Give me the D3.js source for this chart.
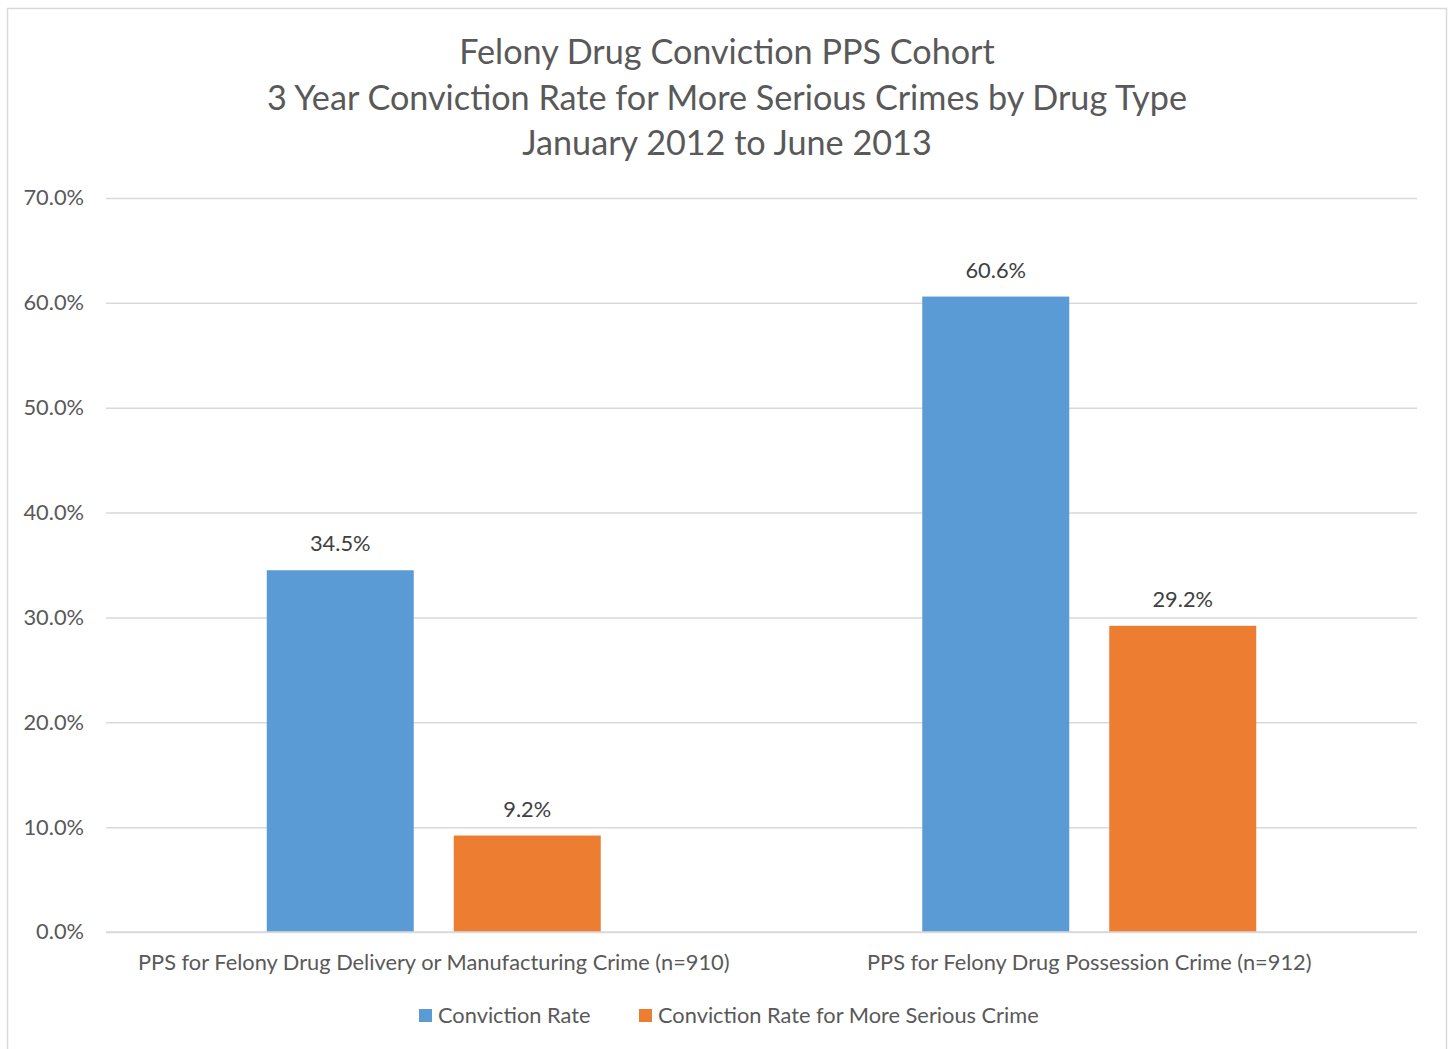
<!DOCTYPE html>
<html>
<head>
<meta charset="utf-8">
<script src="https://cdn.jsdelivr.net/npm/d3@7"></script>
<style>
  html, body { margin: 0; padding: 0; background: #fff; }
  svg { display: block; }
  text { font-family: Lato, "Open Sans", sans-serif; }
</style>
</head>
<body>
<svg id="chart" width="1453" height="1049"></svg>
<script>
// Chart data
const titleLines = [
  "Felony Drug Conviction PPS Cohort",
  "3 Year Conviction Rate for More Serious Crimes by Drug Type",
  "January 2012 to June 2013"
];
const categories = [
  "PPS for Felony Drug Delivery or Manufacturing Crime (n=910)",
  "PPS for Felony Drug Possession Crime (n=912)"
];
const seriesNames = ["Conviction Rate", "Conviction Rate for More Serious Crime"];
const convictionRate = [34.5, 60.6];
const seriousCrimeRate = [9.2, 29.2];
const yTicks = [0, 10, 20, 30, 40, 50, 60, 70];
const seriesColors = ["#5b9bd5", "#ed7d31"];

const seriesValues = [convictionRate, seriousCrimeRate];

const svg = d3.select("#chart");
const labelSize = 21.8;

// Outer frame of the chart area
svg.append("rect")
  .attr("x", 7.5).attr("y", 8.5)
  .attr("width", 1439).attr("height", 1060)
  .attr("fill", "#fff")
  .attr("stroke", "#d9d9d9").attr("stroke-width", 1.5);

const plot = { left: 106, right: 1417, top: 198, bottom: 932 };

const y = d3.scaleLinear().domain([0, 70]).range([plot.bottom, plot.top]);
const x0 = d3.scaleBand().domain(categories).range([plot.left, plot.right]).padding(0);
const x1 = d3.scaleBand().domain(seriesNames).range([0, x0.bandwidth()])
  .paddingInner(0.2139).paddingOuter(0.8597);

// Title
svg.append("g").selectAll("text").data(titleLines).join("text")
  .attr("x", 727)
  .attr("y", (d, i) => 64 + i * 45.5)
  .attr("text-anchor", "middle")
  .attr("font-size", 34.2)
  .attr("fill", "#595959")
  .text(d => d);

// Gridlines and y labels
const yAxis = d3.axisLeft(y).tickValues(yTicks)
  .tickFormat(d => d.toFixed(1) + "%")
  .tickSize(-(plot.right - plot.left)).tickPadding(22);
const gy = svg.append("g").attr("transform", `translate(${plot.left},0)`).call(yAxis);
gy.select(".domain").remove();
gy.selectAll(".tick line").attr("stroke", "#d9d9d9").attr("stroke-width", 1.5);
gy.selectAll(".tick text")
  .attr("font-family", "Lato, 'Open Sans', sans-serif")
  .attr("font-size", labelSize).attr("fill", "#595959");

// Bars
const groups = svg.append("g").selectAll("g").data(categories).join("g")
  .attr("transform", d => `translate(${x0(d)},0)`);

groups.selectAll("rect")
  .data((c, ci) => seriesNames.map((s, si) => ({ s, si, v: seriesValues[si][ci] })))
  .join("rect")
  .attr("x", d => x1(d.s))
  .attr("y", d => y(d.v))
  .attr("width", x1.bandwidth())
  .attr("height", d => y(0) - y(d.v))
  .attr("fill", d => seriesColors[d.si]);

// Value labels
groups.selectAll("text.val")
  .data((c, ci) => seriesNames.map((s, si) => ({ s, si, v: seriesValues[si][ci] })))
  .join("text").attr("class", "val")
  .attr("x", d => x1(d.s) + x1.bandwidth() / 2)
  .attr("y", d => y(d.v) - 19)
  .attr("text-anchor", "middle")
  .attr("font-size", labelSize)
  .attr("fill", "#404040")
  .text(d => d.v.toFixed(1) + "%");

// Baseline axis
svg.append("line")
  .attr("x1", plot.left).attr("x2", plot.right)
  .attr("y1", y(0)).attr("y2", y(0))
  .attr("stroke", "#d9d9d9").attr("stroke-width", 1.5);

// Category labels
svg.append("g").selectAll("text").data(categories).join("text")
  .attr("x", d => x0(d) + x0.bandwidth() / 2)
  .attr("y", 970)
  .attr("text-anchor", "middle")
  .attr("font-size", labelSize)
  .attr("fill", "#595959")
  .text(d => d);

// Legend
const legend = svg.append("g");
const legendX = [419, 639];
seriesNames.forEach((s, i) => {
  const g = legend.append("g").attr("transform", `translate(${legendX[i]},1009)`);
  g.append("rect").attr("width", 13).attr("height", 13).attr("fill", seriesColors[i]);
  g.append("text").attr("x", 19).attr("y", 14)
    .attr("font-size", labelSize).attr("fill", "#595959").text(s);
});
</script>
</body>
</html>
